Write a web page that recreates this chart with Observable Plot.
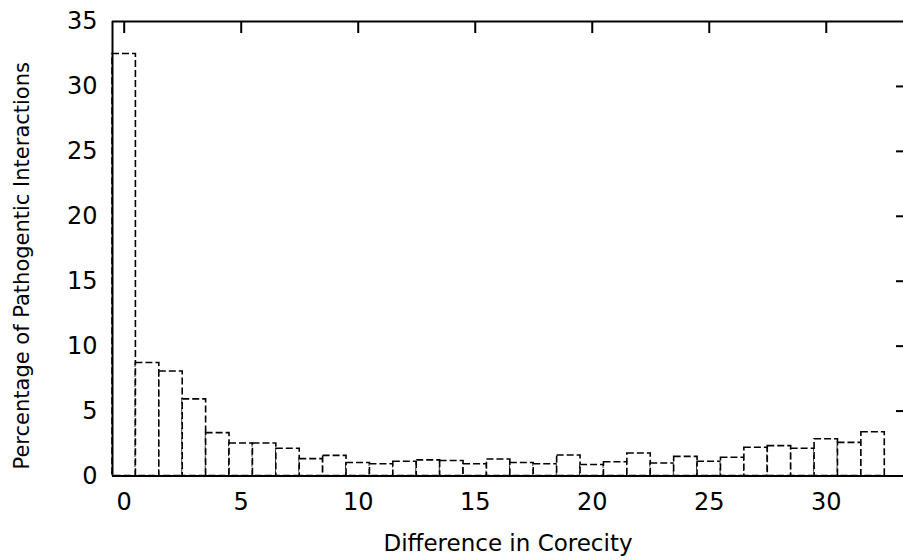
<!DOCTYPE html>
<html><head><meta charset="utf-8">
<script src="https://cdn.jsdelivr.net/npm/d3@7"></script>
<script src="https://cdn.jsdelivr.net/npm/@observablehq/plot@0.6"></script>
<style>body{margin:0;background:#fff}</style>
</head><body><div id="chart"></div>
<script>
const differences = [0,1,2,3,4,5,6,7,8,9,10,11,12,13,14,15,16,17,18,19,20,21,22,23,24,25,26,27,28,29,30,31,32];
const percentages = [32.5,8.7,8.05,5.9,3.3,2.5,2.5,2.1,1.3,1.55,1.0,0.9,1.1,1.2,1.15,0.9,1.27,1.0,0.9,1.58,0.85,1.06,1.73,0.96,1.47,1.1,1.4,2.17,2.3,2.1,2.83,2.55,3.37];
const xTicks = [0,5,10,15,20,25,30];
const yTicks = [0,5,10,15,20,25,30,35];
const xLabel = "Difference in Corecity";
const yLabel = "Percentage of Pathogentic Interactions";

const W = 903, H = 560, mL = 112, mR = 0, mT = 21, mB = 84.5;
const innerW = W - mL - mR, innerH = H - mT - mB;
const data = differences.map((d, i) => ({d, p: percentages[i]}));

const chart = Plot.plot({
  width: W, height: H,
  marginLeft: mL, marginRight: mR, marginTop: mT, marginBottom: mB,
  style: {fontFamily: "DejaVu Sans", fontSize: "24px", background: "#fff", color: "#000"},
  x: {domain: [-0.5, 33.3]},
  y: {domain: [0, 35]},
  marks: [
    Plot.rectY(data, {x1: r => r.d - 0.5, x2: r => r.d + 0.5, y: "p", fill: "white", stroke: "black", strokeWidth: 1.6, strokeDasharray: "7,3"}),
    Plot.ruleX([-0.5], {stroke: "black", strokeWidth: 2}),
    Plot.ruleY([0, 35], {stroke: "black", strokeWidth: 2}),
    Plot.tickX(xTicks, {x: d => d, insetBottom: innerH - 12, stroke: "black", strokeWidth: 2}),
    Plot.tickY(yTicks.filter(v => v > 0 && v < 35), {y: d => d, insetLeft: innerW - 7, stroke: "black", strokeWidth: 2}),
    Plot.axisX({ticks: xTicks, tickSize: 0, tickPadding: 17, label: null, fontSize: 24}),
    Plot.axisY({ticks: yTicks, tickSize: 0, tickPadding: 15, label: null, fontSize: 24}),
    Plot.text([xLabel], {frameAnchor: "bottom", text: d => d, dy: 68, fontSize: 23, lineAnchor: "middle", textAnchor: "middle"}),
    Plot.text([yLabel], {frameAnchor: "left", text: d => d, dx: -90, dy: 17, rotate: -90, fontSize: 21, lineAnchor: "middle", textAnchor: "middle"})
  ]
});
document.getElementById("chart").appendChild(chart);
</script>
</body></html>
